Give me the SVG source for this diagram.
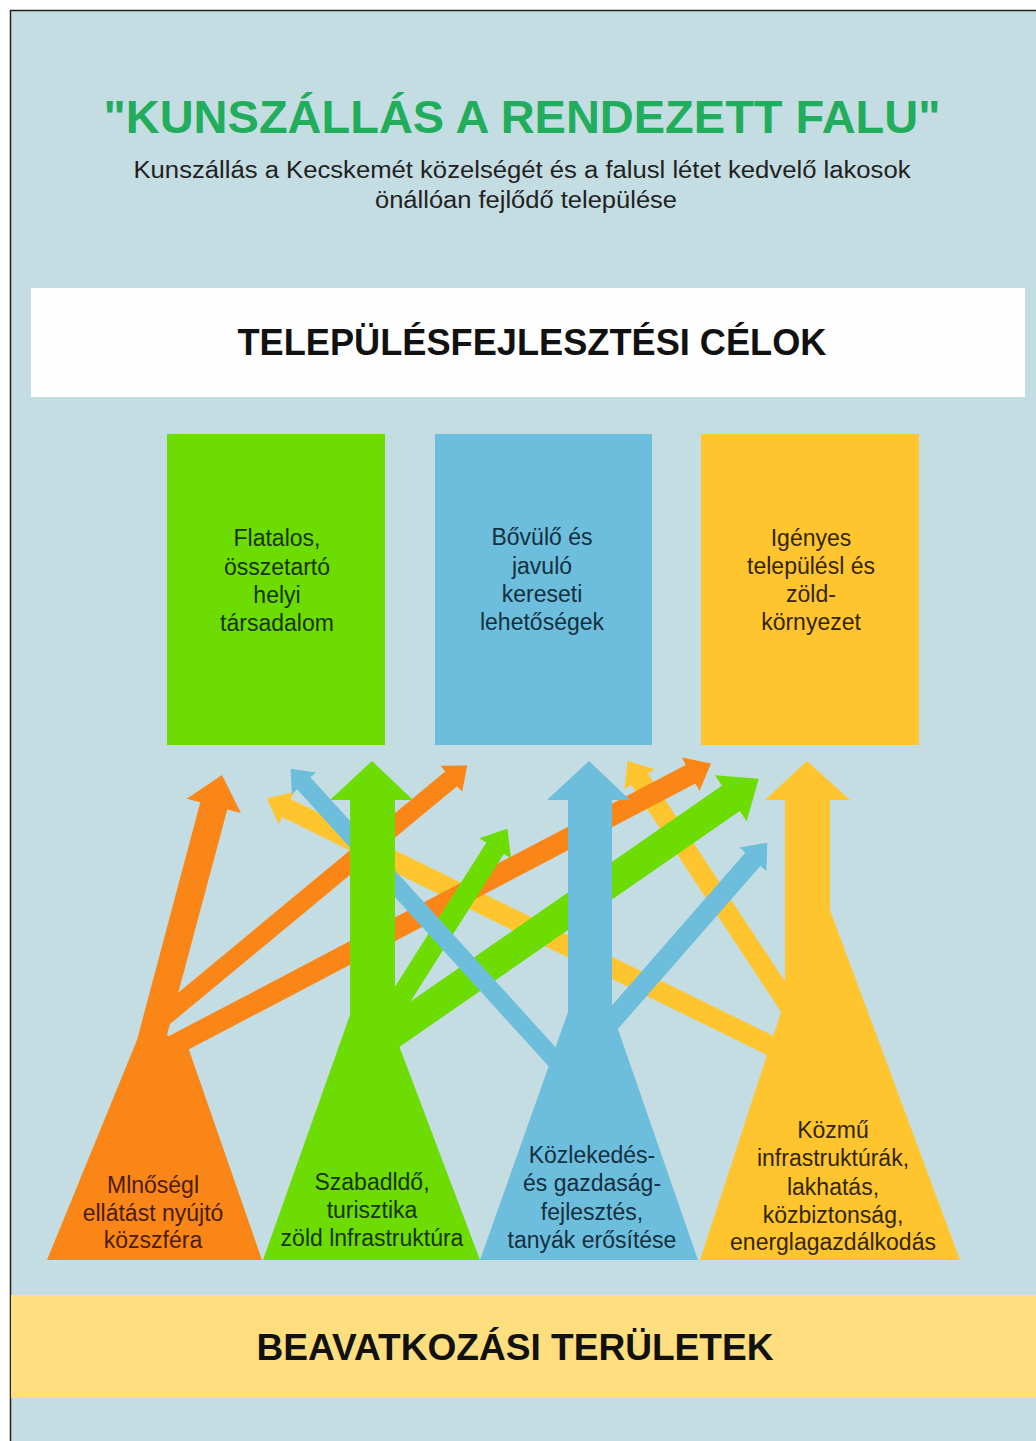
<svg xmlns="http://www.w3.org/2000/svg" width="1036" height="1441" viewBox="0 0 1036 1441">
<style>
text{font-family:"Liberation Sans",Arial,sans-serif;text-anchor:middle}
.title{font-size:46px;font-weight:bold;fill:#22ad5c}
.sub{font-size:23.5px;fill:#222}
.head{font-size:37px;font-weight:bold;fill:#111}
.lbl{font-size:23px}
.o{fill:#fb8618}.g{fill:#6ddc03}.b{fill:#6dbddc}.y{fill:#fec52e}
.lo{fill:#4a1d08}.lg{fill:#173500}.lb{fill:#14303f}.ly{fill:#342500}
.c{fill:none;stroke-linecap:butt}
</style>
<defs>
<marker id="mO" viewBox="0 0 11 18" refX="0.5" refY="9" markerWidth="1.1" markerHeight="1.8" orient="auto" markerUnits="strokeWidth"><path d="M0,0 L11,9 L0,18 Z" fill="#fb8618"/></marker>
<marker id="mG" viewBox="0 0 11 18" refX="0.5" refY="9" markerWidth="1.1" markerHeight="1.8" orient="auto" markerUnits="strokeWidth"><path d="M0,0 L11,9 L0,18 Z" fill="#6ddc03"/></marker>
<marker id="mB" viewBox="0 0 11 18" refX="0.5" refY="9" markerWidth="1.1" markerHeight="1.8" orient="auto" markerUnits="strokeWidth"><path d="M0,0 L11,9 L0,18 Z" fill="#6dbddc"/></marker>
<marker id="mY" viewBox="0 0 11 18" refX="0.5" refY="9" markerWidth="1.1" markerHeight="1.8" orient="auto" markerUnits="strokeWidth"><path d="M0,0 L11,9 L0,18 Z" fill="#fec52e"/></marker>
</defs>
<rect x="0" y="0" width="1036" height="1441" fill="#ffffff"/>
<rect x="10.5" y="10.5" width="1040" height="1440" fill="#c4dde2" stroke="#222" stroke-width="1.5"/>

<g id="header">
<text class="title" x="522" y="133" textLength="837" lengthAdjust="spacingAndGlyphs">"KUNSZÁLLÁS A RENDEZETT FALU"</text>
<text class="sub" x="522" y="178" textLength="777" lengthAdjust="spacingAndGlyphs">Kunszállás a Kecskemét közelségét és a falusl létet kedvelő lakosok</text>
<text class="sub" x="526" y="208" textLength="302" lengthAdjust="spacingAndGlyphs">önállóan fejlődő települése</text>
</g>

<g id="goals-banner">
<rect x="31" y="288" width="994" height="109" fill="#fefefe"/>
<text class="head" x="532" y="355" textLength="589" lengthAdjust="spacingAndGlyphs">TELEPÜLÉSFEJLESZTÉSI CÉLOK</text>
</g>

<g id="goal-green">
<rect class="g" x="167" y="434" width="218" height="311"/>
<text class="lbl lg" x="277" y="546">Flatalos,</text>
<text class="lbl lg" x="277" y="575">összetartó</text>
<text class="lbl lg" x="277" y="603">helyi</text>
<text class="lbl lg" x="277" y="631">társadalom</text>
</g>
<g id="goal-blue">
<rect class="b" x="435" y="434" width="217" height="311"/>
<text class="lbl lb" x="542" y="545">Bővülő és</text>
<text class="lbl lb" x="542" y="574">javuló</text>
<text class="lbl lb" x="542" y="602">kereseti</text>
<text class="lbl lb" x="542" y="630">lehetőségek</text>
</g>
<g id="goal-yellow">
<rect class="y" x="701" y="434" width="218" height="311"/>
<text class="lbl ly" x="811" y="546">Igényes</text>
<text class="lbl ly" x="811" y="574">településl és</text>
<text class="lbl ly" x="811" y="602">zöld-</text>
<text class="lbl ly" x="811" y="630">környezet</text>
</g>

<g id="connectors" class="c">
<path d="M810,1065 L285.7,807.7" stroke="#fec52e" stroke-width="20" marker-end="url(#mY)"/>
<path d="M805,1030 L639.1,778.4" stroke="#fec52e" stroke-width="20" marker-end="url(#mY)"/>
<path d="M160,1020 L451.9,778.3" stroke="#fb8618" stroke-width="19" marker-end="url(#mO)"/>
<path d="M165,1050 L691.5,773.7" stroke="#fb8618" stroke-width="21" marker-end="url(#mO)"/>
<path d="M380,1030 L495.6,847.5" stroke="#6ddc03" stroke-width="21" marker-end="url(#mG)"/>
<path d="M375,1045 L732,797.4" stroke="#6ddc03" stroke-width="31" marker-end="url(#mG)"/>
<path d="M575,1082 L303.3,782.7" stroke="#6dbddc" stroke-width="18" marker-end="url(#mB)"/>
<path d="M595,1040 L753.5,858.6" stroke="#6dbddc" stroke-width="20" marker-end="url(#mB)"/>
</g>

<g id="area-orange">
<polygon class="o" points="47,1260 137,1040 200.3,802.3 186.7,798.8 222,775 240.9,813 227.3,809.5 167,1035 188,1047 262,1260"/>
<text class="lbl lo" x="153" y="1193">Mlnőségl</text>
<text class="lbl lo" x="153" y="1221">ellátást nyújtó</text>
<text class="lbl lo" x="153" y="1248">közszféra</text>
</g>
<g id="area-green">
<polygon class="g" points="263,1260 350,1015 350,800 330,800 372,761 413,800 395,800 395,1035 480,1260"/>
<text class="lbl lg" x="372" y="1190">Szabadldő,</text>
<text class="lbl lg" x="372" y="1218">turisztika</text>
<text class="lbl lg" x="372" y="1246">zöld lnfrastruktúra</text>
</g>
<g id="area-blue">
<polygon class="b" points="480,1260 568,1012 568,800 547,800 589,761 630,800 612,800 612,1012 698,1260"/>
<text class="lbl lb" x="592" y="1163">Közlekedés-</text>
<text class="lbl lb" x="592" y="1191">és gazdaság-</text>
<text class="lbl lb" x="592" y="1220">fejlesztés,</text>
<text class="lbl lb" x="592" y="1248">tanyák erősítése</text>
</g>
<g id="area-yellow">
<polygon class="y" points="700,1260 785,1000 785,800 765,800 807,761 850,800 830,800 830,910 960,1260"/>
<text class="lbl ly" x="833" y="1138">Közmű</text>
<text class="lbl ly" x="833" y="1166">infrastruktúrák,</text>
<text class="lbl ly" x="833" y="1195">lakhatás,</text>
<text class="lbl ly" x="833" y="1223">közbiztonság,</text>
<text class="lbl ly" x="833" y="1250">energlagazdálkodás</text>
</g>

<g id="areas-banner">
<rect x="11" y="1295" width="1025" height="103" fill="#fede7f"/>
<text class="head" x="515" y="1360" textLength="517" lengthAdjust="spacingAndGlyphs" style="font-size:36px">BEAVATKOZÁSI TERÜLETEK</text>
</g>
</svg>
